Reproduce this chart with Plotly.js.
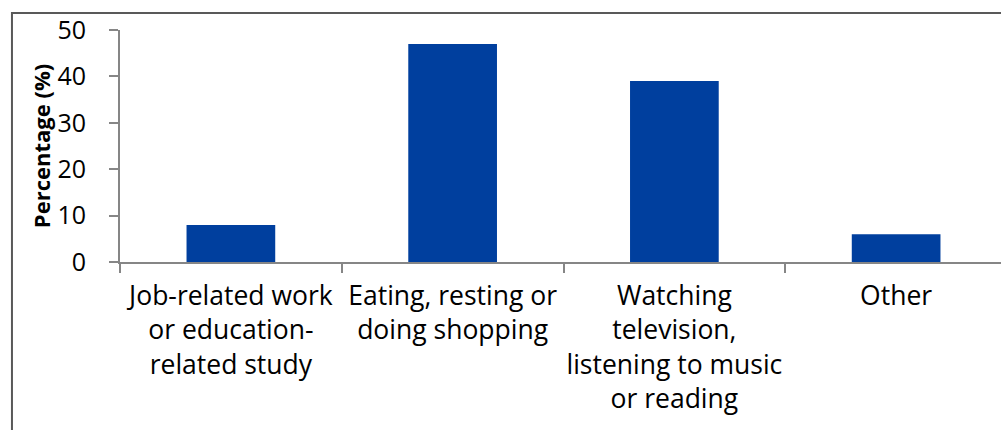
<!DOCTYPE html>
<html>
<head>
<meta charset="utf-8">
<script src="https://cdn.plot.ly/plotly-3.0.1.min.js"></script>
<style>
html, body { margin: 0; padding: 0; overflow: hidden; background: #fff; }
#chart { width: 1010px; height: 440px; }
</style>
</head>
<body>
<div id="chart"></div>
<script>
const categories = [
  "Job-related work<br>or education-<br>related study",
  "Eating, resting or<br>doing shopping",
  "Watching<br>television,<br>listening to music<br>or reading",
  "Other"
];
const percentages = [8, 47, 39, 6];
const yTicks = [0, 10, 20, 30, 40, 50];
const yTitle = "Percentage (%)";

const font = "Open Sans, Noto Sans, sans-serif";

Plotly.newPlot("chart", [{
  type: "bar",
  x: categories,
  y: percentages,
  width: 0.4,
  marker: { color: "#003f9e", line: { width: 0 } },
  hoverinfo: "none"
}], {
  width: 1010,
  height: 440,
  margin: { l: 120, r: 3, t: 30, b: 178 },
  paper_bgcolor: "#ffffff",
  plot_bgcolor: "#ffffff",
  showlegend: false,
  xaxis: {
    type: "category",
    tickson: "boundaries",
    ticks: "outside",
    ticklen: 9,
    tickwidth: 2,
    tickcolor: "#868686",
    showline: true,
    linecolor: "#868686",
    linewidth: 2,
    showgrid: false,
    tickangle: 0,
    ticklabelstandoff: 9,
    tickfont: { family: font, size: 26.5, color: "#000" }
  },
  yaxis: {
    range: [0, 50],
    tickvals: yTicks,
    ticks: "outside",
    ticklen: 9,
    tickwidth: 2,
    tickcolor: "#868686",
    showline: true,
    linecolor: "#868686",
    linewidth: 2,
    showgrid: false,
    zeroline: false,
    ticklabelstandoff: 18,
    tickfont: { family: font, size: 25, color: "#000" },
    title: { text: "<b>" + yTitle + "</b>", font: { family: font, size: 22, color: "#000" }, standoff: 1 }
  },
  shapes: [{
    type: "rect",
    xref: "paper", yref: "paper",
    x0: -0.1218, x1: 1.2, y0: -1, y1: 1.073,
    line: { color: "#595959", width: 2 },
    fillcolor: "rgba(0,0,0,0)",
    layer: "below"
  }]
}, { displayModeBar: false, staticPlot: true });
</script>
</body>
</html>
